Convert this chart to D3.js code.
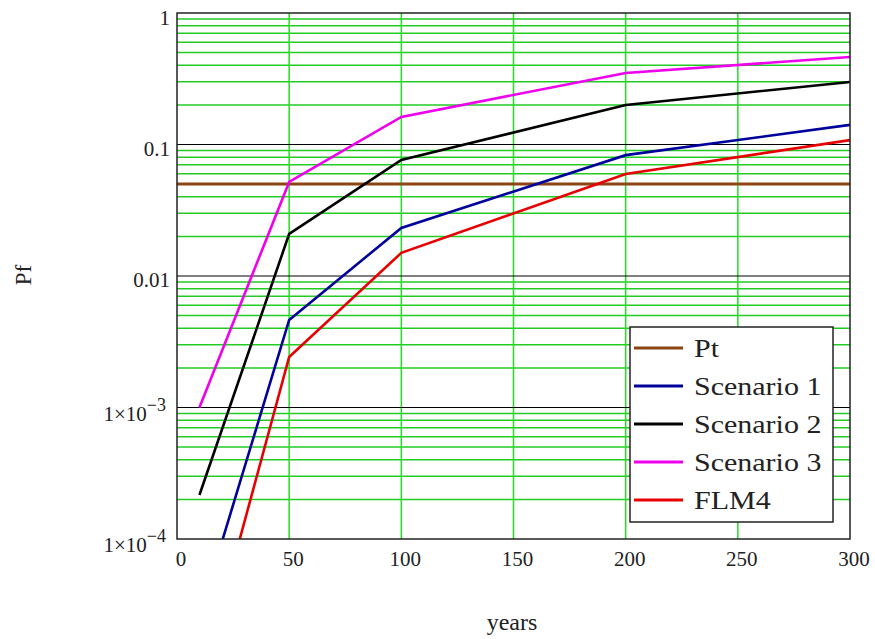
<!DOCTYPE html>
<html><head><meta charset="utf-8">
<script src="https://cdn.jsdelivr.net/npm/d3@7"></script>
<style>
body{margin:0;background:#fff;}
text{font-family:"Liberation Serif","Times New Roman",serif;fill:#222;}
</style></head>
<body><svg id="c" width="875" height="639"></svg>
<script>
const years = [10, 50, 100, 200, 300];
const ptValue = 0.05;
const scenario1 = [2.6e-5, 4.63e-3, 0.0232, 0.083, 0.141];
const scenario2 = [2.16e-4, 0.0209, 0.0762, 0.20, 0.299];
const scenario3 = [1.0e-3, 0.0519, 0.162, 0.35, 0.463];
const flm4 = [7.4e-6, 2.42e-3, 0.0150, 0.0597, 0.108];
const xTicks = [0, 50, 100, 150, 200, 250, 300];
const yMajor = [1e-4, 1e-3, 0.01, 0.1, 1];
const yTickLabels = ["1×10", "1×10", "0.01", "0.1", "1"];
const yTickSup = ["−4", "−3", "", "", ""];
const legendNames = ["Pt", "Scenario 1", "Scenario 2", "Scenario 3", "FLM4"];
const colors = ["#8b4513", "#00009c", "#000000", "#ee00ee", "#e80000"];

const svg = d3.select("#c");
const L = 177, R = 850, T = 13, B = 539;
const x = d3.scaleLinear().domain([0, 300]).range([L, R]);
const y = d3.scaleLog().domain([1e-4, 1]).range([B, T]);

// minor grid
const minor = [];
for (let d = -4; d < 0; d++) for (let k = 2; k <= 9; k++) minor.push(k * Math.pow(10, d));
const g = svg.append("g");
g.selectAll(".mh").data(minor).join("line")
  .attr("x1", L).attr("x2", R).attr("y1", d => y(d)).attr("y2", d => y(d))
  .attr("stroke", "#22cc22").attr("stroke-width", 1.5);
g.selectAll(".v").data(xTicks.slice(1, -1)).join("line")
  .attr("x1", d => x(d)).attr("x2", d => x(d)).attr("y1", T).attr("y2", B)
  .attr("stroke", "#22dd22").attr("stroke-width", 1.5);
g.selectAll(".mj").data(yMajor.slice(1, -1)).join("line")
  .attr("x1", L).attr("x2", R).attr("y1", d => y(d)).attr("y2", d => y(d))
  .attr("stroke", "#000").attr("stroke-width", 1.2);

// clip
svg.append("clipPath").attr("id", "clip").append("rect")
  .attr("x", L).attr("y", T).attr("width", R - L).attr("height", B - T);
const lines = svg.append("g").attr("clip-path", "url(#clip)");

// Pt line
lines.append("line").attr("x1", L).attr("x2", R)
  .attr("y1", y(ptValue)).attr("y2", y(ptValue))
  .attr("stroke", colors[0]).attr("stroke-width", 3);

const series = [scenario1, scenario2, scenario3, flm4];
const line = d3.line().x((d, i) => x(years[i])).y(d => y(d));
series.forEach((s, i) => {
  lines.append("path").attr("d", line(s)).attr("fill", "none")
    .attr("stroke", colors[i + 1]).attr("stroke-width", 2.6);
});

// frame
svg.append("rect").attr("x", L).attr("y", T).attr("width", R - L).attr("height", B - T)
  .attr("fill", "none").attr("stroke", "#222").attr("stroke-width", 1.5);

// x tick labels
svg.selectAll(".xt").data(xTicks).join("text")
  .attr("x", d => x(d) + 4).attr("y", 566).attr("text-anchor", "middle")
  .attr("font-size", 21).text(d => d);

// y tick labels
yMajor.forEach((v, i) => {
  const t = svg.append("text").attr("x", 170).attr("y", y(v) + 11)
    .attr("text-anchor", "end").attr("font-size", 21);
  if (yTickSup[i]) {
    t.attr("x", 166).attr("y", y(v) + 13);
    t.append("tspan").text(yTickLabels[i]);
    t.append("tspan").attr("dy", -10).attr("font-size", 18).text(yTickSup[i]);
  } else {
    if (v === 1) t.attr("y", y(v) + 12);
    t.text(yTickLabels[i]);
  }
});

// axis titles
svg.append("text").attr("transform", "translate(31,275) rotate(-90)")
  .attr("text-anchor", "middle").attr("font-size", 23).text("Pf");
svg.append("text").attr("x", 512).attr("y", 630).attr("text-anchor", "middle")
  .attr("font-size", 24).text("years");

// legend
const lg = svg.append("g");
lg.append("rect").attr("x", 630).attr("y", 327).attr("width", 203).attr("height", 195)
  .attr("fill", "#fff").attr("stroke", "#222").attr("stroke-width", 1.5);
legendNames.forEach((n, i) => {
  const cy = 348 + i * 38;
  lg.append("line").attr("x1", 634).attr("x2", 683).attr("y1", cy).attr("y2", cy)
    .attr("stroke", colors[i]).attr("stroke-width", 3);
  lg.append("text").attr("transform", `translate(694,${cy + 9}) scale(1.2,1)`)
    .attr("font-size", 25).text(n);
});
</script></body></html>
